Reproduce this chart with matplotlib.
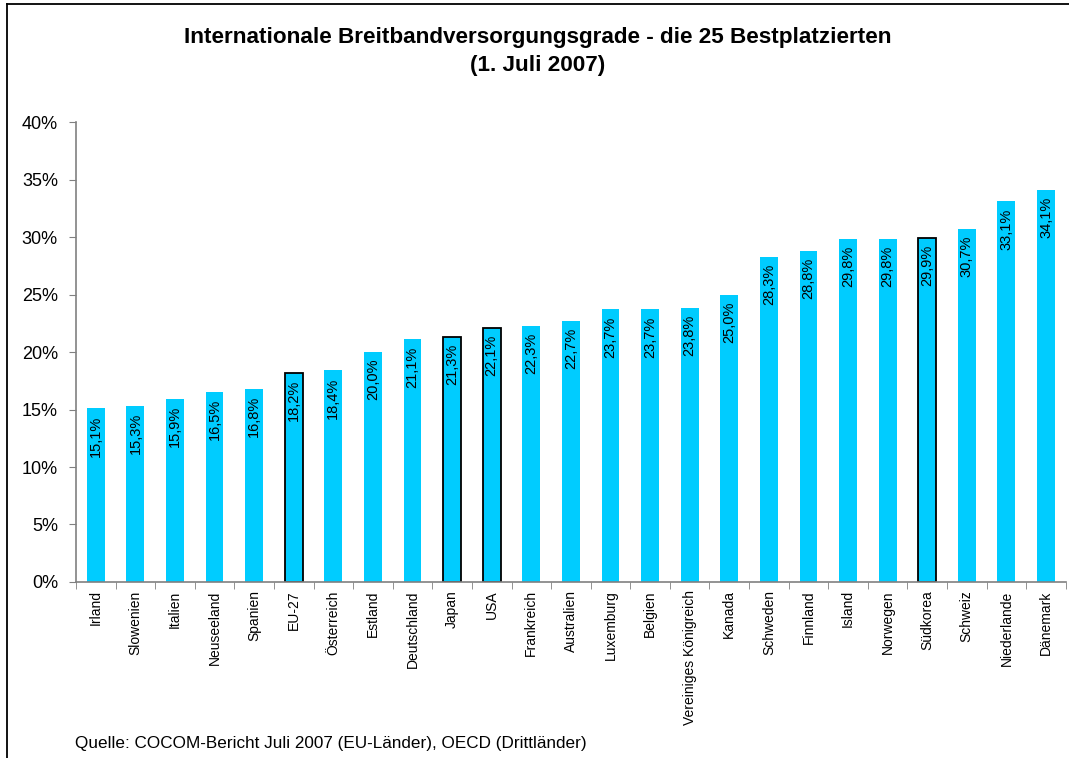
import numpy as np
import matplotlib
matplotlib.use("Agg")
import matplotlib.pyplot as plt
from matplotlib.lines import Line2D

plt.rcParams['font.family'] = ['Liberation Sans', 'DejaVu Sans']

countries = ['Irland', 'Slowenien', 'Italien', 'Neuseeland', 'Spanien', 'EU-27',
             'Österreich', 'Estland', 'Deutschland', 'Japan', 'USA', 'Frankreich',
             'Australien', 'Luxemburg', 'Belgien', 'Vereiniges Königreich', 'Kanada',
             'Schweden', 'Finnland', 'Island', 'Norwegen', 'Südkorea', 'Schweiz',
             'Niederlande', 'Dänemark']
values = [15.1, 15.3, 15.9, 16.5, 16.8, 18.2, 18.4, 20.0, 21.1, 21.3, 22.1, 22.3,
          22.7, 23.7, 23.7, 23.8, 25.0, 28.3, 28.8, 29.8, 29.8, 29.9, 30.7, 33.1, 34.1]
highlight = ['EU-27', 'Japan', 'USA', 'Südkorea']

bar_color = '#00CCFF'
axis_gray = '#808080'

fig = plt.figure(figsize=(10.69, 7.58), dpi=100)
ax = fig.add_axes([0.0711, 0.2322, 0.9259, 0.6068])

x = np.arange(len(countries))
for i, (c, v) in enumerate(zip(countries, values)):
    if c in highlight:
        ax.bar(i, v, width=0.45, color=bar_color, edgecolor='black', linewidth=1.3, zorder=2)
    else:
        ax.bar(i, v, width=0.45, color=bar_color, linewidth=0, zorder=2)
    ax.text(i, v - 0.6, '{:.1f}%'.format(v).replace('.', ','), rotation=90,
            ha='center', va='top', fontsize=10.5, zorder=3)

ax.set_xlim(-0.5, len(countries) - 0.5)
ax.set_ylim(0, 40)
ax.set_yticks(np.arange(0, 41, 5))
ax.set_yticklabels(['{}%'.format(t) for t in range(0, 41, 5)], fontsize=13)

ax.set_xticks(x)
ax.set_xticklabels(countries, rotation=90, fontsize=10)
ax.set_xticks(np.arange(-0.5, len(countries), 1), minor=True)
ax.tick_params(axis='x', which='major', length=0, pad=6)
ax.tick_params(axis='x', which='minor', length=5, color=axis_gray, direction='out')
ax.tick_params(axis='y', length=5, color=axis_gray, direction='out', pad=8)

for s in ['top', 'right']:
    ax.spines[s].set_visible(False)
for s in ['left', 'bottom']:
    ax.spines[s].set_color(axis_gray)
    ax.spines[s].set_linewidth(1.2)

fig.text(0.503, 0.964, 'Internationale Breitbandversorgungsgrade - die 25 Bestplatzierten\n(1. Juli 2007)',
         ha='center', va='top', fontsize=16.2, fontweight='bold', linespacing=1.4)
fig.text(0.07, 0.009, 'Quelle: COCOM-Bericht Juli 2007 (EU-Länder), OECD (Drittländer)',
         ha='left', va='bottom', fontsize=12.3)

# outer frame (left and top only visible)
fig.add_artist(Line2D([0.0066, 0.0066], [0, 0.9947], transform=fig.transFigure, color='black', lw=1.3))
fig.add_artist(Line2D([0.0066, 1.0], [0.9947, 0.9947], transform=fig.transFigure, color='black', lw=1.3))

fig.savefig('out.png', dpi=100)
